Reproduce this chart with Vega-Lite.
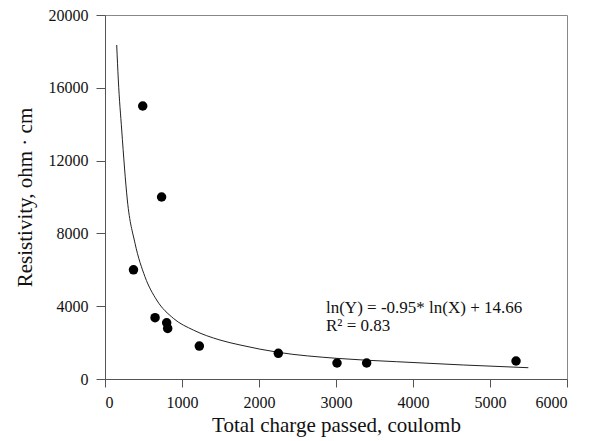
{
  "$schema": "https://vega.github.io/schema/vega-lite/v6.json",
  "autosize": "none",
  "width": 462,
  "height": 364,
  "padding": {"left": 105, "top": 15, "right": 25, "bottom": 62},
  "background": "white",
  "config": {
    "view": {"stroke": "#888888", "strokeWidth": 1},
    "font": "Liberation Serif",
    "axis": {
      "labelFont": "Liberation Serif",
      "titleFont": "Liberation Serif",
      "labelFontSize": 16,
      "titleFontSize": 21,
      "titleFontWeight": "normal",
      "labelColor": "#111",
      "titleColor": "#111",
      "domainColor": "#555555",
      "tickColor": "#555555",
      "grid": false
    }
  },
  "datasets": {
    "points": [
      {"charge": 370, "resistivity": 6000},
      {"charge": 490, "resistivity": 15000},
      {"charge": 650, "resistivity": 3370},
      {"charge": 735, "resistivity": 10000},
      {"charge": 801, "resistivity": 3090},
      {"charge": 814, "resistivity": 2780},
      {"charge": 1225, "resistivity": 1810},
      {"charge": 2251, "resistivity": 1410},
      {"charge": 3013, "resistivity": 880},
      {"charge": 3398, "resistivity": 880},
      {"charge": 5338, "resistivity": 990}
    ],
    "fit": [
      {"charge": 152, "resistivity": 18350},
      {"charge": 173, "resistivity": 16430},
      {"charge": 217, "resistivity": 13680},
      {"charge": 290, "resistivity": 9835},
      {"charge": 390, "resistivity": 7456},
      {"charge": 519, "resistivity": 5620},
      {"charge": 671, "resistivity": 4340},
      {"charge": 887, "resistivity": 3335},
      {"charge": 1147, "resistivity": 2690},
      {"charge": 1494, "resistivity": 2140},
      {"charge": 1753, "resistivity": 1870},
      {"charge": 2251, "resistivity": 1465},
      {"charge": 3009, "resistivity": 1135},
      {"charge": 3788, "resistivity": 950},
      {"charge": 4653, "resistivity": 770},
      {"charge": 5498, "resistivity": 620}
    ],
    "notes": [
      {"charge": 2870, "resistivity": 3900, "label": "ln(Y) = -0.95* ln(X) + 14.66"},
      {"charge": 2870, "resistivity": 2910, "label": "R² = 0.83"}
    ]
  },
  "layer": [
    {
      "data": {"name": "fit"},
      "mark": {"type": "line", "color": "#222", "strokeWidth": 1, "interpolate": "monotone"},
      "encoding": {
        "x": {
          "field": "charge", "type": "quantitative",
          "scale": {"domain": [0, 6000], "nice": false},
          "axis": {
            "title": "Total charge passed, coulomb",
            "values": [0, 1000, 2000, 3000, 4000, 5000, 6000],
            "format": "d",
            "tickSize": 8,
            "labelPadding": 7,
            "titlePadding": 4
          }
        },
        "y": {
          "field": "resistivity", "type": "quantitative",
          "scale": {"domain": [0, 20000], "nice": false},
          "axis": {
            "title": "Resistivity, ohm · cm",
            "values": [0, 2000, 4000, 6000, 8000, 10000, 12000, 14000, 16000, 18000, 20000],
            "labelExpr": "datum.value % 4000 === 0 ? datum.label : ''",
            "format": "d",
            "tickSize": {"condition": {"test": "datum.value % 4000 === 0", "value": 9}, "value": 5},
            "labelPadding": 8,
            "titlePadding": 13
          }
        }
      }
    },
    {
      "data": {"name": "points"},
      "mark": {"type": "point", "filled": true, "color": "black", "size": 90, "opacity": 1},
      "encoding": {
        "x": {"field": "charge", "type": "quantitative"},
        "y": {"field": "resistivity", "type": "quantitative"}
      }
    },
    {
      "data": {"name": "notes"},
      "mark": {"type": "text", "align": "left", "baseline": "middle", "font": "Liberation Serif", "fontSize": 17, "color": "#111"},
      "encoding": {
        "x": {"field": "charge", "type": "quantitative"},
        "y": {"field": "resistivity", "type": "quantitative"},
        "text": {"field": "label"}
      }
    }
  ]
}
